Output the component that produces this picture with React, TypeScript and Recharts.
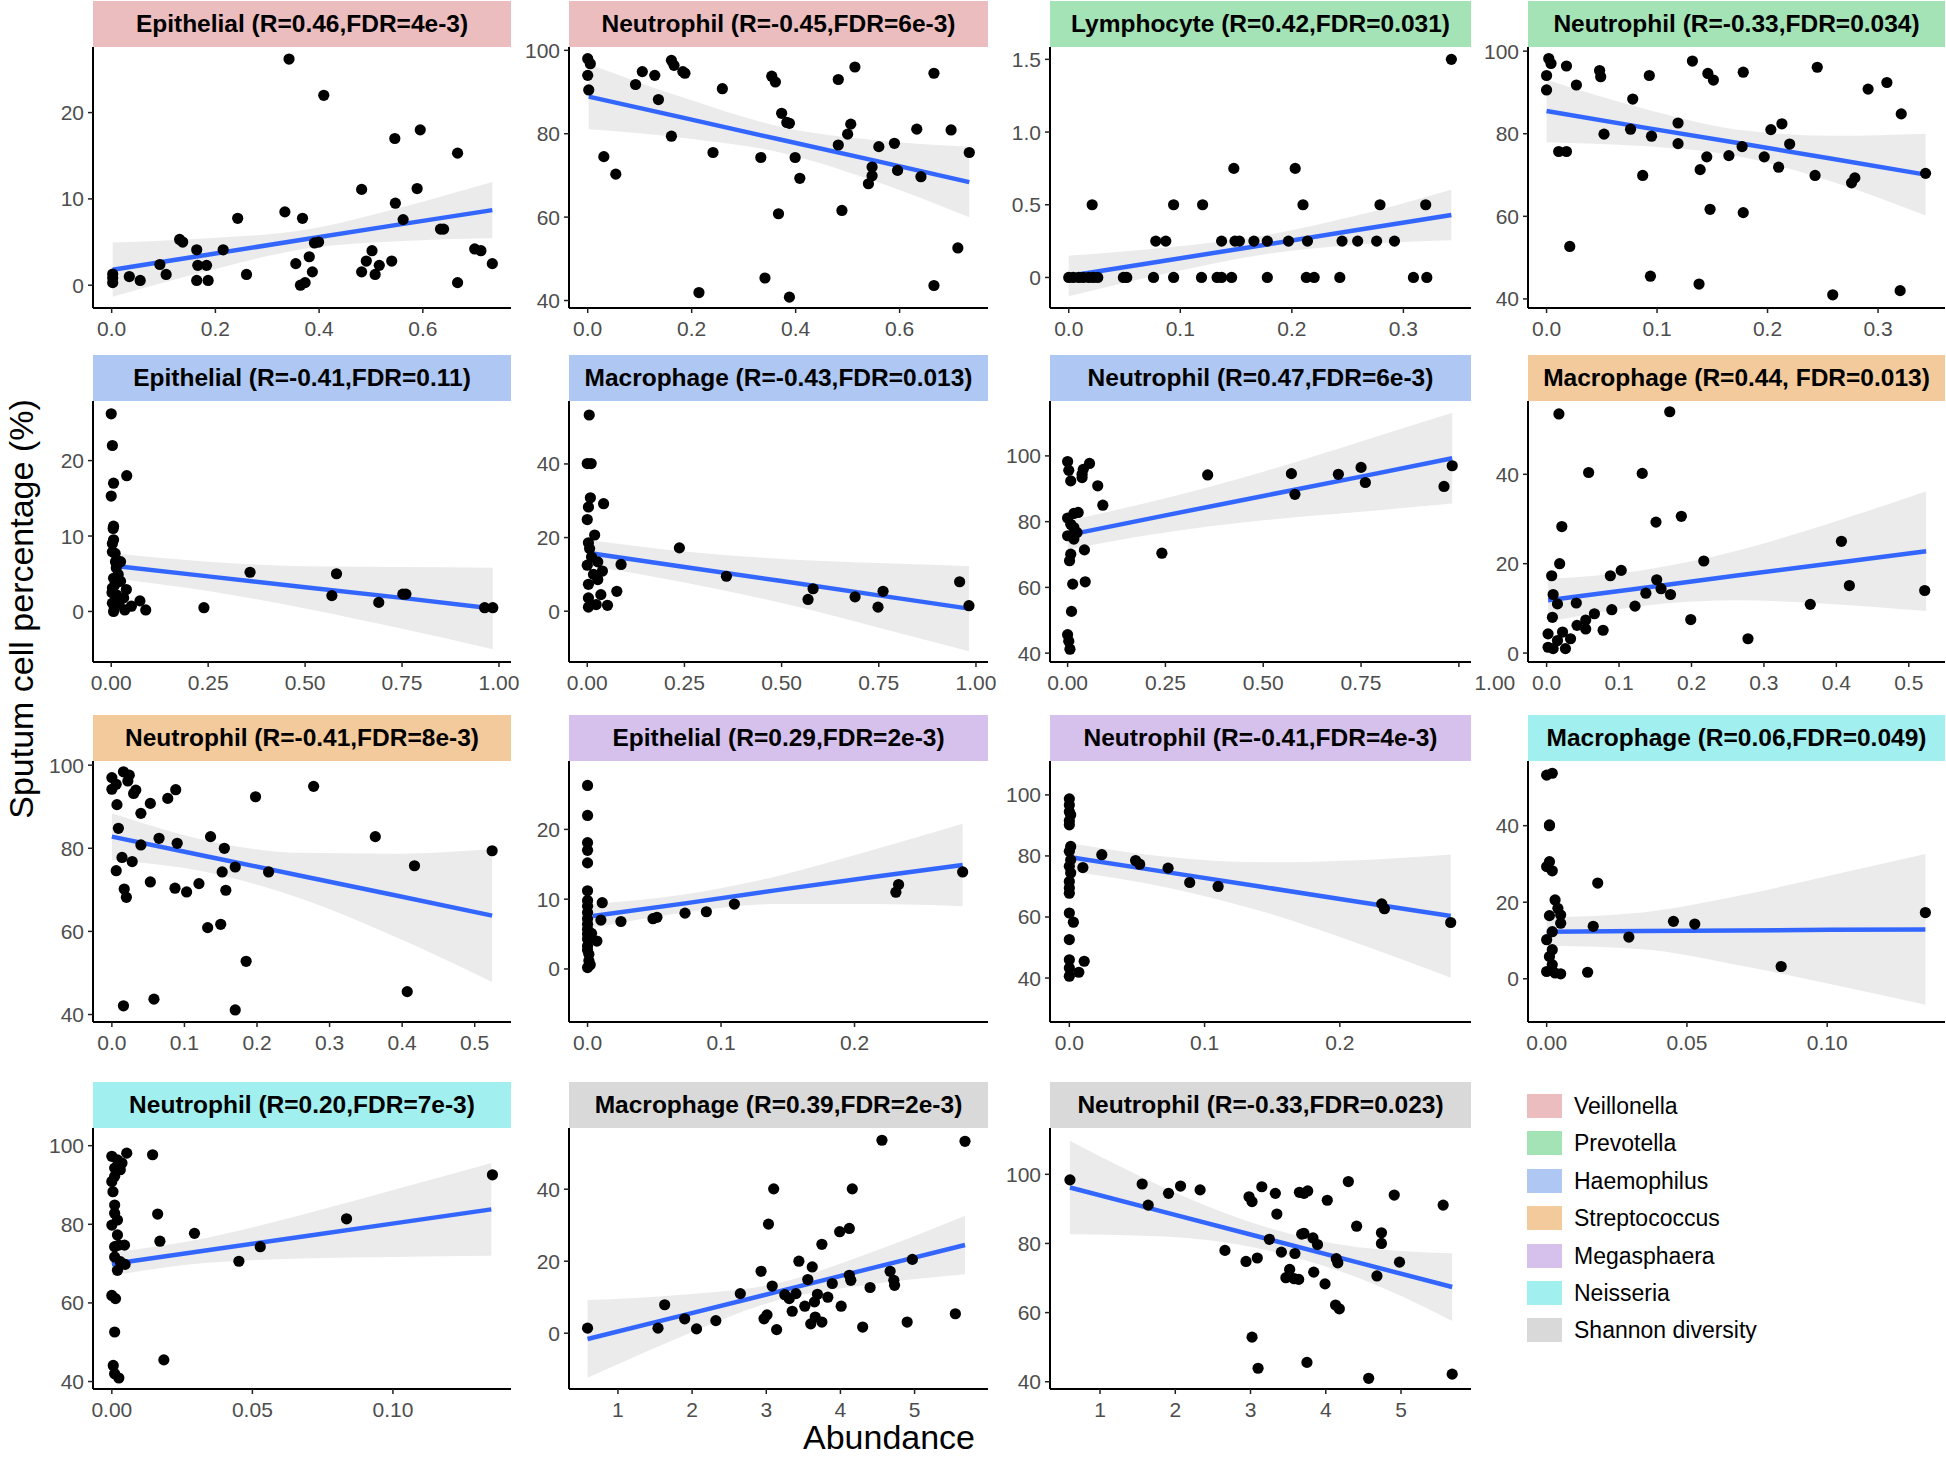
import React from 'react';
import { ComposedChart, Scatter, Line, Area, XAxis, YAxis } from 'recharts';

type Pt = [number, number];
// x, fitted value, lower band, upper band
type FitRow = [number, number, number, number];

const legendLabels = ['Veillonella', 'Prevotella', 'Haemophilus', 'Streptococcus', 'Megasphaera', 'Neisseria', 'Shannon diversity'];
const legendColors = ['#EBBDBF', '#A3E3B5', '#AEC8F3', '#F3CA9C', '#D6C0EC', '#A1F0EF', '#D9D9D9'];

const titles = [
  'Epithelial (R=0.46,FDR=4e-3)',
  'Neutrophil (R=-0.45,FDR=6e-3)',
  'Lymphocyte (R=0.42,FDR=0.031)',
  'Neutrophil (R=-0.33,FDR=0.034)',
  'Epithelial (R=-0.41,FDR=0.11)',
  'Macrophage (R=-0.43,FDR=0.013)',
  'Neutrophil (R=0.47,FDR=6e-3)',
  'Macrophage (R=0.44, FDR=0.013)',
  'Neutrophil (R=-0.41,FDR=8e-3)',
  'Epithelial (R=0.29,FDR=2e-3)',
  'Neutrophil (R=-0.41,FDR=4e-3)',
  'Macrophage (R=0.06,FDR=0.049)',
  'Neutrophil (R=0.20,FDR=7e-3)',
  'Macrophage (R=0.39,FDR=2e-3)',
  'Neutrophil (R=-0.33,FDR=0.023)',
];
// index into legendLabels for each panel
const panelGroup = [0, 0, 1, 1, 2, 2, 2, 3, 3, 4, 4, 5, 5, 6, 6];

// ---- axis ranges and ticks ----
const xDomains: [number, number][] = [
  [-0.036, 0.77], [-0.036, 0.77], [-0.0168, 0.3606], [-0.0168, 0.3606],
  [-0.047, 1.031], [-0.047, 1.031], [-0.045, 1.031], [-0.0257, 0.55],
  [-0.026, 0.55], [-0.0139, 0.3], [-0.0143, 0.297], [-0.00665, 0.142],
  [-0.0067, 0.142], [0.34, 5.99], [0.335, 5.93],
];
const yDomains: [number, number][] = [
  [-2.64, 27.6], [38.2, 100.8], [-0.21, 1.585], [37.8, 101.0],
  [-6.7, 27.9], [-13.8, 57.1], [37.3, 116.7], [-2.0, 56.4],
  [38.2, 101.0], [-7.6, 29.8], [25.6, 111.1], [-11.3, 56.9],
  [38.1, 104.5], [-15.5, 57.0], [37.9, 113.4],
];
const ticksA = [0, 0.2, 0.4, 0.6];
const labelsA = ['0.0', '0.2', '0.4', '0.6'];
const ticksB = [0, 0.1, 0.2, 0.3];
const labelsB = ['0.0', '0.1', '0.2', '0.3'];
const ticksC = [0, 0.25, 0.5, 0.75, 1];
const labelsC = ['0.00', '0.25', '0.50', '0.75', '1.00'];
const ticksD = [0, 0.1, 0.2, 0.3, 0.4, 0.5];
const labelsD = ['0.0', '0.1', '0.2', '0.3', '0.4', '0.5'];
const ticksE = [0, 0.1, 0.2];
const labelsE = ['0.0', '0.1', '0.2'];
const ticksF = [0, 0.05, 0.1];
const labelsF = ['0.00', '0.05', '0.10'];
const ticksG = [1, 2, 3, 4, 5];
const labelsG = ['1', '2', '3', '4', '5'];
const yTicksEpi = [0, 10, 20];
const yTicksNeu = [40, 60, 80, 100];
const yTicksMac = [0, 20, 40];
const yTicksLym = [0, 0.5, 1.0, 1.5];
const yLabelsLym = ['0', '0.5', '1.0', '1.5'];

// ---- points ----
const p1Points: Pt[] = [[0.342,26.2],[0.409,22.0],[0.595,18.0],[0.546,17.0],[0.667,15.3],[0.482,11.1],[0.589,11.2],[0.547,9.5],[0.334,8.5],[0.368,7.75],[0.243,7.75],[0.562,7.6],[0.634,6.5],[0.640,6.5],[0.131,5.3],[0.137,5.0],[0.391,4.9],[0.399,5.0],[0.164,4.1],[0.215,4.1],[0.502,4.0],[0.700,4.2],[0.712,4.0],[0.093,2.4],[0.166,2.3],[0.183,2.3],[0.381,3.3],[0.355,2.5],[0.491,2.8],[0.516,2.3],[0.540,2.8],[0.734,2.5],[0.387,1.55],[0.482,1.55],[0.508,1.25],[0.105,1.25],[0.260,1.25],[0.034,1.0],[0.055,0.55],[0.002,1.3],[0.002,0.3],[0.002,0.85],[0.164,0.55],[0.186,0.55],[0.364,0.0],[0.373,0.3],[0.667,0.3]];
const p2Points: Pt[] = [[0,98.0],[0.005,96.8],[0,94.0],[0.002,90.5],[0.092,91.8],[0.105,94.9],[0.129,94.0],[0.161,97.6],[0.166,96.4],[0.183,94.9],[0.187,94.5],[0.136,88.2],[0.259,90.8],[0.354,93.8],[0.361,92.4],[0.514,96.0],[0.482,93.0],[0.666,94.5],[0.373,84.9],[0.383,82.7],[0.388,82.5],[0.161,79.4],[0.506,82.3],[0.5,79.9],[0.633,81.1],[0.699,80.9],[0.482,77.3],[0.56,76.9],[0.59,77.7],[0.031,74.5],[0.241,75.5],[0.333,74.3],[0.399,74.3],[0.734,75.5],[0.054,70.3],[0.547,72.0],[0.547,69.9],[0.54,68.0],[0.596,71.2],[0.641,69.7],[0.408,69.3],[0.367,60.8],[0.489,61.6],[0.712,52.6],[0.341,45.4],[0.214,41.9],[0.388,40.8],[0.666,43.6]];
const p3Points: Pt[] = [[0.343,1.5],[0.148,0.75],[0.203,0.75],[0.021,0.5],[0.094,0.5],[0.12,0.5],[0.21,0.5],[0.279,0.5],[0.32,0.5],[0.078,0.25],[0.087,0.25],[0.137,0.25],[0.149,0.25],[0.153,0.25],[0.166,0.25],[0.178,0.25],[0.197,0.25],[0.214,0.25],[0.245,0.25],[0.259,0.25],[0.276,0.25],[0.292,0.25],[0,0],[0.004,0],[0.009,0],[0.013,0],[0.018,0],[0.022,0],[0.026,0],[0.049,0],[0.052,0],[0.076,0],[0.094,0],[0.119,0],[0.133,0],[0.137,0],[0.146,0],[0.178,0],[0.213,0],[0.22,0],[0.243,0],[0.309,0],[0.321,0]];
const p4Points: Pt[] = [[0.002,98.2],[0.004,97.0],[0,94.1],[0,90.6],[0.018,96.4],[0.027,91.8],[0.048,95.3],[0.049,93.8],[0.011,75.7],[0.018,75.7],[0.021,52.7],[0.052,79.9],[0.078,88.4],[0.093,94.1],[0.076,81.1],[0.095,79.4],[0.087,69.9],[0.094,45.5],[0.132,97.6],[0.146,94.6],[0.151,93.0],[0.119,82.6],[0.119,77.6],[0.145,74.4],[0.139,71.3],[0.148,61.7],[0.138,43.6],[0.178,94.9],[0.177,76.9],[0.165,74.7],[0.178,60.9],[0.197,74.4],[0.203,81.0],[0.213,82.4],[0.22,77.5],[0.21,71.9],[0.245,96.1],[0.243,69.9],[0.259,41.0],[0.276,68.1],[0.279,69.3],[0.291,90.8],[0.308,92.4],[0.321,84.8],[0.32,42.0],[0.343,70.4]];
const p5Points: Pt[] = [[0.0,26.2],[0.003,22.0],[0.04,18.0],[0.006,17.0],[0.0,15.3],[0.006,11.3],[0.005,11.0],[0.006,9.5],[0.003,9.0],[0.01,7.7],[0.003,7.9],[0.011,6.6],[0.024,6.6],[0.013,5.8],[0.018,4.9],[0.006,4.4],[0.024,4.0],[0.003,3.1],[0.039,2.9],[0.014,2.2],[0.032,1.8],[0.003,1.1],[0.074,1.4],[0.052,0.7],[0.035,0.2],[0.089,0.2],[0.006,0.0],[0.002,2.5],[0.01,3.6],[0.02,1.0],[0.008,0.5],[0.239,0.5],[0.358,5.2],[0.581,5.0],[0.569,2.1],[0.69,1.2],[0.752,2.3],[0.76,2.3],[0.963,0.5],[0.984,0.5]];
const p6Points: Pt[] = [[0.005,53.3],[0.0,40.1],[0.01,40.1],[0.008,30.8],[0.003,28.3],[0.042,29.2],[0.0,24.9],[0.019,20.7],[0.003,18.6],[0.006,17.0],[0.237,17.2],[0.011,14.7],[0.027,13.4],[0.0,12.5],[0.087,12.7],[0.039,10.9],[0.016,10.0],[0.358,9.5],[0.027,8.6],[0.003,7.3],[0.076,5.4],[0.035,4.5],[0.581,6.1],[0.568,3.2],[0.761,5.4],[0.689,3.9],[0.748,1.1],[0.958,8.0],[0.982,1.5],[0.003,3.6],[0.003,1.1],[0.052,1.6],[0.023,1.8]];
const p7Points: Pt[] = [[0.0,98.3],[0.003,95.6],[0.008,92.4],[0.037,94.4],[0.04,95.9],[0.037,93.4],[0.056,97.7],[0.077,90.9],[0.09,85.0],[0.0,81.1],[0.016,82.5],[0.027,82.8],[0.008,79.2],[0.016,78.2],[0.024,76.7],[0.0,75.7],[0.016,74.7],[0.008,70.1],[0.043,71.4],[0.005,68.1],[0.013,61.0],[0.045,61.7],[0.01,52.7],[0.0,45.6],[0.003,43.6],[0.006,41.2],[0.241,70.4],[0.358,94.2],[0.572,94.6],[0.581,88.3],[0.692,94.4],[0.75,96.5],[0.761,91.9],[0.962,90.7],[0.983,97.0]];
const p8Points: Pt[] = [[0.017,53.5],[0.17,54.0],[0.058,40.4],[0.132,40.2],[0.186,30.6],[0.151,29.3],[0.021,28.3],[0.407,25.0],[0.018,20.0],[0.217,20.6],[0.103,18.5],[0.088,17.3],[0.007,17.3],[0.152,16.4],[0.418,15.1],[0.522,14.0],[0.158,14.4],[0.137,13.4],[0.171,13.1],[0.009,13.1],[0.015,11.0],[0.041,11.2],[0.122,10.5],[0.364,10.9],[0.09,9.7],[0.066,8.8],[0.008,8.0],[0.199,7.5],[0.042,6.2],[0.054,7.4],[0.054,5.4],[0.078,5.1],[0.002,4.3],[0.022,4.7],[0.033,3.2],[0.015,2.8],[0.278,3.2],[0.002,1.3],[0.009,1.0],[0.026,1.0]];
const p9Points: Pt[] = [[0,97.0],[0,94.2],[0.006,95.4],[0.016,98.4],[0.024,97.6],[0.022,96.2],[0.033,94.0],[0.03,93.2],[0.007,90.5],[0.04,88.4],[0.053,90.8],[0.077,92.0],[0.088,94.1],[0.198,92.4],[0.278,94.9],[0.009,84.8],[0.065,82.4],[0.04,80.8],[0.09,81.2],[0.136,82.8],[0.155,80.0],[0.363,82.8],[0.524,79.4],[0.014,77.8],[0.028,76.8],[0.006,74.6],[0.17,75.5],[0.152,74.3],[0.216,74.3],[0.417,75.8],[0.053,71.9],[0.12,71.5],[0.087,70.4],[0.103,69.5],[0.017,70.2],[0.02,68.2],[0.157,69.9],[0.132,60.9],[0.15,61.7],[0.185,52.8],[0.407,45.5],[0.058,43.7],[0.016,42.1],[0.17,41.1]];
const p10Points: Pt[] = [[0,26.3],[0,22.0],[0,18.1],[0,17.0],[0,15.2],[0,11.2],[0,9.8],[0,9.0],[0,8.1],[0,7.2],[0,6.4],[0,5.7],[0.003,5.1],[0,5.0],[0,4.3],[0,3.3],[0,2.7],[0.001,2.1],[0.001,1.2],[0.002,0.6],[0,0.2],[0.007,4.0],[0.011,9.5],[0.01,7.0],[0.025,6.8],[0.049,7.2],[0.052,7.4],[0.073,8.0],[0.089,8.2],[0.11,9.3],[0.231,11.0],[0.233,12.1],[0.281,13.9]];
const p11Points: Pt[] = [[0,98.7],[0,96.7],[0,94.5],[0.001,93.5],[0,91.5],[0,90.2],[0.001,83.1],[0,81.5],[0.001,78.7],[0,76.6],[0.001,74.4],[0,71.6],[0,69.5],[0,67.8],[0,61.3],[0.003,58.3],[0,52.6],[0,46.0],[0,43.3],[0,40.6],[0.011,45.5],[0.007,41.9],[0.01,76.2],[0.024,80.4],[0.049,78.5],[0.052,77.3],[0.073,76.0],[0.089,71.3],[0.11,70.0],[0.231,64.3],[0.233,62.7],[0.282,58.2]];
const p12Points: Pt[] = [[0,53.2],[0.002,53.7],[0.001,40.2],[0.001,40.0],[0,29.3],[0.001,30.6],[0.002,28.2],[0.003,20.6],[0.004,18.4],[0.005,16.7],[0.001,16.5],[0.005,14.5],[0.002,12.3],[0,10.2],[0.002,7.6],[0.001,5.8],[0.002,3.7],[0.003,1.5],[0.005,1.3],[0,1.9],[0.0146,1.7],[0.0166,13.7],[0.0182,25.0],[0.0293,10.9],[0.0452,15.0],[0.0528,14.3],[0.0836,3.2],[0.135,17.3]];
const p13Points: Pt[] = [[0,97.3],[0.002,96.4],[0.0036,95.6],[0.001,94.3],[0.003,93.9],[0.001,92.2],[0,90.9],[0.0004,88.3],[0.001,84.9],[0.001,82.8],[0.002,81.1],[0,79.8],[0.002,77.3],[0.0025,74.7],[0.001,74.3],[0.0045,74.7],[0.001,71.7],[0.003,70.5],[0.0047,69.8],[0.002,68.3],[0,61.9],[0.0013,61.1],[0.001,52.6],[0.0005,44.1],[0.001,42.0],[0.0025,40.9],[0.0053,98.1],[0.003,95.6],[0.0145,97.7],[0.0163,82.6],[0.0171,75.7],[0.0294,77.7],[0.0185,45.5],[0.0452,70.6],[0.0528,74.3],[0.0835,81.4],[0.1354,92.6]];
const p14Points: Pt[] = [[0.59,1.4],[1.54,1.4],[1.63,7.9],[1.9,4.0],[2.06,1.2],[2.32,3.5],[2.65,11.0],[2.93,17.2],[2.97,4.0],[3.01,5.1],[3.03,30.3],[3.1,40.1],[3.08,13.1],[3.14,1.0],[3.25,10.7],[3.31,9.6],[3.35,6.1],[3.4,11.0],[3.44,20.0],[3.52,7.5],[3.56,14.9],[3.62,18.4],[3.6,2.6],[3.66,4.5],[3.75,3.1],[3.65,8.7],[3.69,10.8],[3.75,24.7],[3.83,10.0],[3.89,13.8],[4.01,7.5],[3.99,28.2],[4.12,29.1],[4.16,40.1],[4.12,16.1],[4.14,14.7],[4.3,1.7],[4.4,12.7],[4.56,53.6],[4.67,17.2],[4.72,14.7],[4.73,13.3],[4.9,3.1],[4.97,20.5],[5.55,5.4],[5.68,53.3]];
const p15Points: Pt[] = [[0.6,98.4],[1.56,97.2],[1.64,91.1],[1.91,94.5],[2.07,96.6],[2.33,95.5],[2.66,78.0],[2.94,74.8],[2.98,93.5],[3.02,92.1],[3.09,75.8],[3.15,96.4],[3.25,81.2],[3.33,94.5],[3.35,88.5],[3.41,77.5],[3.47,70.1],[3.52,72.5],[3.58,69.8],[3.64,69.6],[3.59,77.1],[3.65,94.8],[3.71,94.5],[3.76,95.2],[3.68,82.7],[3.71,82.9],[3.83,81.6],[3.89,79.7],[3.84,71.7],[3.99,68.3],[4.02,92.5],[4.14,75.6],[4.16,74.4],[4.13,62.2],[4.18,61.1],[4.3,97.9],[4.41,85.0],[4.68,70.6],[4.74,83.1],[4.74,80.0],[4.91,94.0],[4.98,74.6],[5.56,91.1],[5.68,42.2],[3.02,52.9],[3.1,43.9],[3.75,45.6],[4.57,41.0]];

// ---- fitted line and confidence band ----
const p1Fit: FitRow[] = [[0.002,1.8,-1.35,4.95],[0.185,3.54,1.64,5.44],[0.37,5.29,4.19,6.39],[0.55,6.99,5.09,8.89],[0.734,8.7,5.45,11.95]];
const p2Fit: FitRow[] = [[0.002,88.9,81.05,96.75],[0.185,83.8,79.0,88.6],[0.37,78.6,75.5,81.7],[0.55,73.6,68.7,78.5],[0.734,68.4,59.95,76.85]];
const p3Fit: FitRow[] = [[0,0.01,-0.13,0.15],[0.086,0.115,0.025,0.205],[0.172,0.22,0.155,0.285],[0.257,0.325,0.225,0.425],[0.343,0.43,0.256,0.604]];
const p4Fit: FitRow[] = [[0,85.5,77.95,93.05],[0.086,81.6,77.0,86.2],[0.172,77.8,74.6,81.0],[0.257,74.0,68.5,79.5],[0.343,70.1,60.2,80.0]];
const p5Fit: FitRow[] = [[0,6.1,4.45,7.75],[0.25,4.65,2.7,6.6],[0.5,3.2,0.4,6.0],[0.75,1.8,-2.3,5.9],[0.984,0.4,-5.0,5.8]];
const p6Fit: FitRow[] = [[0,15.9,12.4,19.4],[0.25,12.0,7.8,16.2],[0.5,8.2,2.2,14.2],[0.75,4.3,-4.5,13.1],[0.982,0.7,-10.9,12.3]];
const p7Fit: FitRow[] = [[0,75.9,71.5,80.3],[0.25,81.9,76.7,87.1],[0.5,87.8,80.4,95.2],[0.75,93.7,83.0,104.4],[0.983,99.3,85.5,113.1]];
const p8Fit: FitRow[] = [[0.002,11.8,7.0,16.6],[0.13,14.5,10.5,18.5],[0.26,17.3,11.8,22.8],[0.39,20.0,11.0,29.0],[0.524,22.8,9.4,36.2]];
const p9Fit: FitRow[] = [[0,82.8,77.2,88.4],[0.13,78.1,74.3,81.9],[0.26,73.4,67.9,78.9],[0.39,68.7,58.7,78.7],[0.524,63.8,47.8,79.8]];
const p10Fit: FitRow[] = [[0.004,7.6,5.9,9.3],[0.073,9.4,8.1,10.7],[0.142,11.3,9.3,13.3],[0.211,13.1,9.3,16.9],[0.281,14.9,9.0,20.8]];
const p11Fit: FitRow[] = [[0.002,79.5,74.9,84.1],[0.072,74.7,69.7,79.7],[0.142,69.9,61.9,77.9],[0.212,65.1,51.6,78.6],[0.282,60.3,40.1,80.5]];
const p12Fit: FitRow[] = [[0,12.3,8.6,16.0],[0.034,12.5,7.7,17.3],[0.068,12.6,3.6,21.6],[0.101,12.8,-1.4,27.0],[0.135,12.9,-6.8,32.6]];
const p13Fit: FitRow[] = [[0,69.9,67.0,72.8],[0.034,73.4,70.2,76.6],[0.068,76.9,71.3,82.5],[0.101,80.3,71.7,88.9],[0.135,83.8,72.0,95.6]];
const p14Fit: FitRow[] = [[0.59,-1.6,-12.4,9.2],[1.86,4.9,-0.9,10.7],[3.13,11.4,9.0,13.8],[4.41,18.0,13.6,22.4],[5.68,24.5,16.4,32.6]];
const p15Fit: FitRow[] = [[0.6,96.2,82.7,109.7],[1.87,89.0,82.0,96.0],[3.14,81.8,78.4,85.2],[4.41,74.6,70.2,79.0],[5.68,67.4,57.6,77.2]];

const allPoints = [p1Points, p2Points, p3Points, p4Points, p5Points, p6Points, p7Points, p8Points, p9Points, p10Points, p11Points, p12Points, p13Points, p14Points, p15Points];
const allFits = [p1Fit, p2Fit, p3Fit, p4Fit, p5Fit, p6Fit, p7Fit, p8Fit, p9Fit, p10Fit, p11Fit, p12Fit, p13Fit, p14Fit, p15Fit];
const xTickSets = [ticksA, ticksA, ticksB, ticksB, ticksC, ticksC, ticksC, ticksD, ticksD, ticksE, ticksE, ticksF, ticksF, ticksG, ticksG];
const xLabelSets = [labelsA, labelsA, labelsB, labelsB, labelsC, labelsC, labelsC, labelsD, labelsD, labelsE, labelsE, labelsF, labelsF, labelsG, labelsG];
const yTickSets = [yTicksEpi, yTicksNeu, yTicksLym, yTicksNeu, yTicksEpi, yTicksMac, yTicksNeu, yTicksMac, yTicksNeu, yTicksEpi, yTicksNeu, yTicksMac, yTicksNeu, yTicksMac, yTicksNeu];

// ---- layout ----
const FONT = '"Liberation Sans", Arial, Helvetica, sans-serif';
const Y_AXIS_W = 70;
const X_AXIS_H = 45;
const PLOT_H = 261;
const STRIP_H = 46;
const PAD_TOP = 16;
const PAD_RIGHT = 44;
const colLeft = [93, 569, 1050, 1528];
const colWidth = [418, 419, 421, 417];
const rowTop = [1, 355, 715, 1082];
const TICK_GREY = '#4D4D4D';

const dot = (p: any) => <circle cx={p.cx} cy={p.cy} r={5.6} fill="#000" />;

function Panel({ i }: { i: number }) {
  const row = Math.floor(i / 4);
  const col = i % 4;
  const left = colLeft[col];
  const w = colWidth[col];
  const top = rowTop[row];
  const pts = allPoints[i].map(([x, y]) => ({ x, y }));
  const fit = allFits[i].map(([x, f, lo, hi]) => ({ x, fit: f, band: [lo, hi] }));
  const xt = xTickSets[i];
  const xl = xLabelSets[i];
  const yt = yTickSets[i];
  const yl = i === 2 ? yLabelsLym : yt.map(String);
  // the "1.00" label of this panel sits right of its tick in the original
  const xShift = i === 6 ? 36 : 0;

  const xTick = (p: any) => {
    const k = xt.indexOf(p.payload.value);
    const dx = k === xt.length - 1 ? xShift : 0;
    return (
      <text x={p.x + dx} y={p.y} dy={21} textAnchor="middle" fill={TICK_GREY} fontSize={21} fontFamily={FONT}>
        {xl[k]}
      </text>
    );
  };
  const yTick = (p: any) => {
    const k = yt.indexOf(p.payload.value);
    return (
      <text x={p.x} y={p.y} dy={7.5} textAnchor="end" fill={TICK_GREY} fontSize={21} fontFamily={FONT}>
        {yl[k]}
      </text>
    );
  };

  return (
    <>
      <div
        style={{
          position: 'absolute', left, top, width: w, height: STRIP_H,
          background: legendColors[panelGroup[i]], color: '#000',
          fontWeight: 'bold', fontSize: 24.5, lineHeight: `${STRIP_H}px`,
          textAlign: 'center', whiteSpace: 'nowrap', fontFamily: FONT,
        }}
      >
        {titles[i]}
      </div>
      <div style={{ position: 'absolute', left: left - Y_AXIS_W, top: top + STRIP_H - PAD_TOP }}>
        <ComposedChart
          width={Y_AXIS_W + w + PAD_RIGHT}
          height={PAD_TOP + PLOT_H + X_AXIS_H}
          data={fit}
          margin={{ top: PAD_TOP, right: PAD_RIGHT, bottom: 0, left: 0 }}
        >
          <XAxis
            dataKey="x" type="number" domain={xDomains[i]} ticks={xt} allowDataOverflow interval={0}
            height={X_AXIS_H} tickSize={5} tickMargin={2} tick={xTick}
            axisLine={{ stroke: '#000', strokeWidth: 2 }} tickLine={{ stroke: '#222', strokeWidth: 1.5 }}
          />
          <YAxis
            type="number" domain={yDomains[i]} ticks={yt} allowDataOverflow interval={0}
            width={Y_AXIS_W} tickSize={5} tickMargin={4} tick={yTick}
            axisLine={{ stroke: '#000', strokeWidth: 2 }} tickLine={{ stroke: '#222', strokeWidth: 1.5 }}
          />
          <Scatter data={pts} dataKey="y" shape={dot} isAnimationActive={false} />
          <Area dataKey="band" type="monotone" stroke="none" fill="#000" fillOpacity={0.08} isAnimationActive={false} />
          <Line dataKey="fit" type="linear" stroke="#3366FF" strokeWidth={4.5} dot={false} activeDot={false} isAnimationActive={false} />
        </ComposedChart>
      </div>
    </>
  );
}

export default function App() {
  return (
    <div
      style={{
        position: 'absolute', left: 0, top: 0, width: 1946, height: 1458,
        background: '#fff', overflow: 'hidden', fontFamily: FONT,
      }}
    >
      {titles.map((_, i) => <Panel key={i} i={i} />)}

      <div
        style={{
          position: 'absolute', left: 21, top: 609, transform: 'translate(-50%, -50%) rotate(-90deg)',
          fontSize: 34, lineHeight: '38px', whiteSpace: 'nowrap', color: '#000',
        }}
      >
        Sputum cell percentage (%)
      </div>
      <div
        style={{
          position: 'absolute', left: 889, top: 1418, transform: 'translateX(-50%)',
          fontSize: 34, lineHeight: '38px', whiteSpace: 'nowrap', color: '#000',
        }}
      >
        Abundance
      </div>

      {legendLabels.map((lab, k) => (
        <React.Fragment key={lab}>
          <div
            style={{
              position: 'absolute', left: 1527, top: 1094 + k * 37.4, width: 35, height: 24,
              background: legendColors[k],
            }}
          />
          <div
            style={{
              position: 'absolute', left: 1574, top: 1094 + k * 37.4, height: 24, lineHeight: '24px',
              fontSize: 23, whiteSpace: 'nowrap', color: '#000',
            }}
          >
            {lab}
          </div>
        </React.Fragment>
      ))}
    </div>
  );
}
